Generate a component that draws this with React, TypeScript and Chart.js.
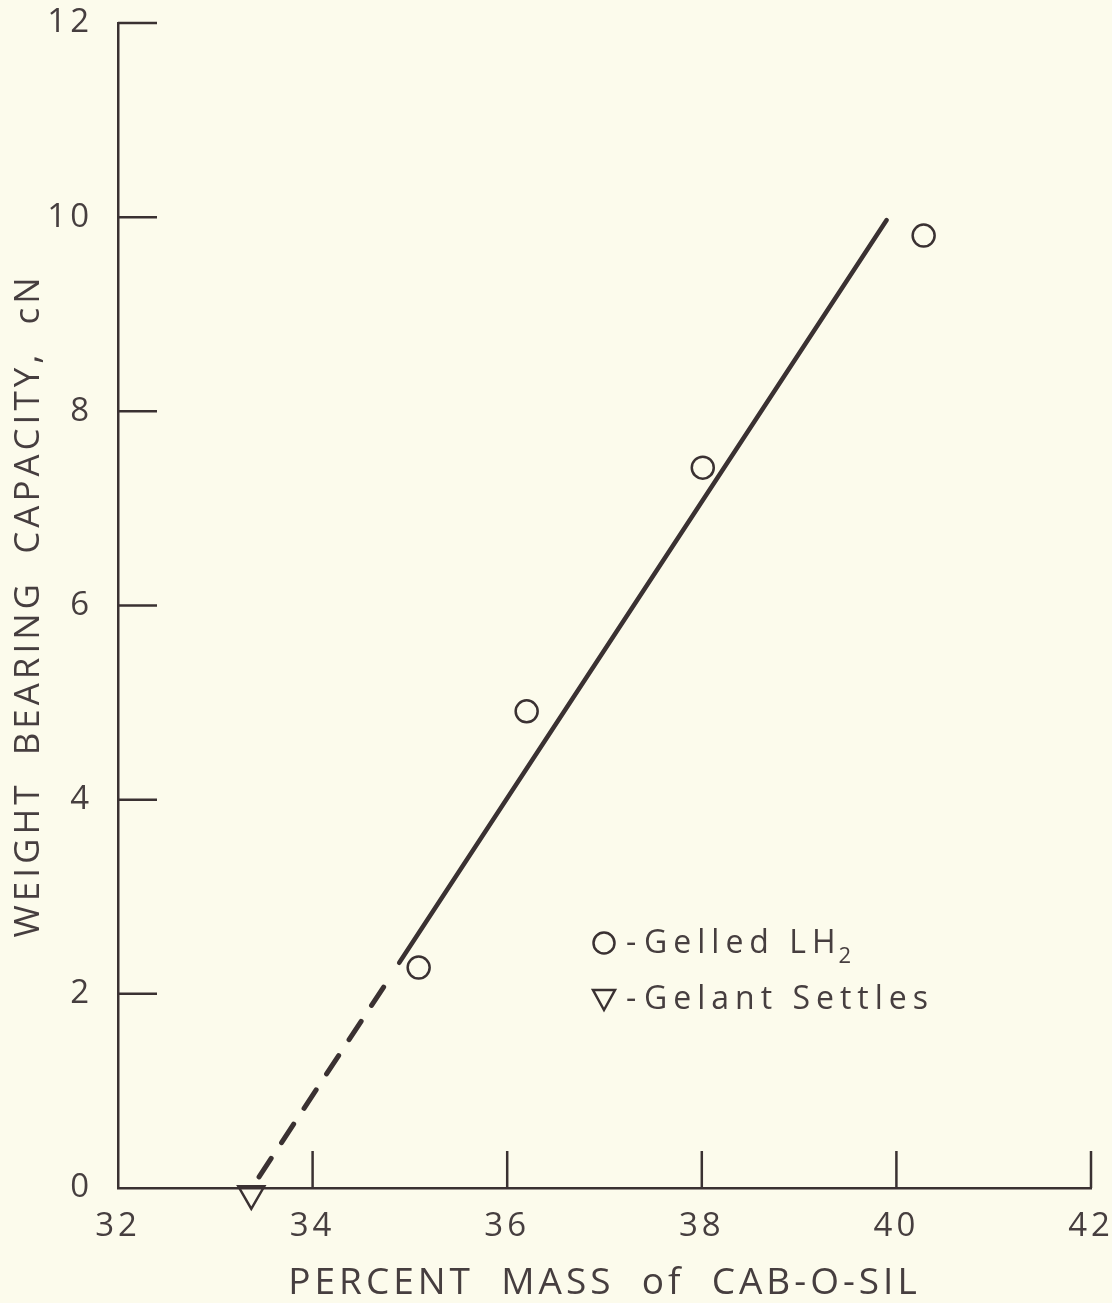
import React, { useEffect, useRef } from 'react';
import { Chart, registerables } from 'chart.js';

Chart.register(...registerables);

// ---- data ----
const xTicks = [32, 34, 36, 38, 40, 42];
const yTicks = [0, 2, 4, 6, 8, 10, 12];
const gelledX = [35.09, 36.2, 38.01, 40.28];
const gelledY = [2.27, 4.91, 7.42, 9.81];
const settlesX = [33.37];
const settlesY = [-0.06];
const fitX = [34.89, 39.9];
const fitY = [2.32, 9.97];
const extrapX = [34.73, 33.44];
const extrapY = [2.07, 0.1];
const seriesLabels = ['Gelled LH₂', 'Gelant Settles'];
const xTitle = 'PERCENT  MASS  of  CAB-O-SIL';
const yTitle = 'WEIGHT  BEARING  CAPACITY,  cN';

// ---- styles ----
const W = 1112;
const H = 1303;
const BG = '#fcfbec';
const INK = '#3a3132';
const TEXT = '#463e3f';
const FONT = '"Open Sans", "DejaVu Sans", sans-serif';

const pts = (xs: number[], ys: number[]) => xs.map((x, i) => ({ x, y: ys[i] }));

const spacingPlugin = {
  id: 'spacing',
  beforeLayout(chart: any) {
    chart.ctx.letterSpacing = '4px';
  },
  beforeDraw(chart: any) {
    const ctx = chart.ctx;
    ctx.save();
    ctx.fillStyle = BG;
    ctx.fillRect(0, 0, chart.width, chart.height);
    ctx.restore();
    ctx.letterSpacing = '4px';
  },
};

const innerTicksPlugin = {
  id: 'innerTicks',
  afterDraw(chart: any) {
    const { ctx, chartArea, scales } = chart;
    ctx.save();
    ctx.strokeStyle = INK;
    ctx.lineWidth = 2.5;
    scales.y.ticks.forEach((t: any) => {
      if (t.value === scales.y.min) return;
      const py = scales.y.getPixelForValue(t.value);
      ctx.beginPath();
      ctx.moveTo(chartArea.left, py);
      ctx.lineTo(chartArea.left + 39, py);
      ctx.stroke();
    });
    scales.x.ticks.forEach((t: any) => {
      if (t.value === scales.x.min) return;
      const px = scales.x.getPixelForValue(t.value);
      ctx.beginPath();
      ctx.moveTo(px, chartArea.bottom);
      ctx.lineTo(px, chartArea.bottom - 37);
      ctx.stroke();
    });
    ctx.restore();
  },
};

const legendPlugin = {
  id: 'customLegend',
  afterDraw(chart: any) {
    const ctx = chart.ctx;
    const mx = 604;
    const rows = [943, 999];
    ctx.save();
    ctx.strokeStyle = INK;
    ctx.lineWidth = 2.5;
    // circle marker
    ctx.beginPath();
    ctx.arc(mx, rows[0], 10.5, 0, Math.PI * 2);
    ctx.stroke();
    // down-pointing triangle marker
    ctx.beginPath();
    ctx.moveTo(mx - 11, rows[1] - 9);
    ctx.lineTo(mx + 11, rows[1] - 9);
    ctx.lineTo(mx, rows[1] + 11);
    ctx.closePath();
    ctx.stroke();

    ctx.fillStyle = TEXT;
    ctx.textBaseline = 'middle';
    ctx.textAlign = 'left';
    ctx.letterSpacing = '6px';
    seriesLabels.forEach((label, i) => {
      const sub = label.endsWith('₂');
      const main = sub ? label.slice(0, -1) : label;
      ctx.font = `32px ${FONT}`;
      ctx.fillText('-', 626, rows[i] + 1);
      const tx = 644;
      ctx.fillText(main, tx, rows[i] + 1);
      if (sub) {
        const w = ctx.measureText(main).width;
        ctx.font = `22px ${FONT}`;
        ctx.fillText('2', tx + w - 3, rows[i] + 14);
      }
    });
    ctx.restore();
  },
};

export default function App() {
  const ref = useRef<HTMLCanvasElement | null>(null);

  useEffect(() => {
    document.body.style.margin = '0';
    document.body.style.background = BG;
    const canvas = ref.current;
    if (!canvas) return;
    const chart = new Chart(canvas, {
      type: 'scatter',
      data: {
        datasets: [
          {
            label: 'fit',
            data: pts(fitX, fitY),
            showLine: true,
            borderColor: INK,
            borderWidth: 4.5,
            borderCapStyle: 'round',
            pointRadius: 0,
            clip: false,
          },
          {
            label: 'extrapolation',
            data: pts(extrapX, extrapY),
            showLine: true,
            borderColor: INK,
            borderWidth: 5,
            borderDash: [22, 19],
            borderCapStyle: 'round',
            pointRadius: 0,
            clip: false,
          },
          {
            label: seriesLabels[0],
            data: pts(gelledX, gelledY),
            showLine: false,
            pointStyle: 'circle',
            pointRadius: 11,
            pointBorderWidth: 2.5,
            pointBorderColor: INK,
            pointBackgroundColor: 'rgba(0,0,0,0)',
            clip: false,
          },
          {
            label: seriesLabels[1],
            data: pts(settlesX, settlesY),
            showLine: false,
            pointStyle: 'triangle',
            rotation: 180,
            pointRadius: 15,
            pointBorderWidth: 2.5,
            pointBorderColor: INK,
            pointBackgroundColor: 'rgba(0,0,0,0)',
            clip: false,
          },
        ],
      },
      options: {
        responsive: false,
        animation: false,
        devicePixelRatio: 1,
        layout: { padding: { top: 23, right: 21, left: 0, bottom: 0 } },
        plugins: { legend: { display: false }, tooltip: { enabled: false } },
        scales: {
          x: {
            type: 'linear',
            min: xTicks[0],
            max: xTicks[xTicks.length - 1],
            afterBuildTicks: (s: any) => {
              s.ticks = xTicks.map((v) => ({ value: v }));
            },
            afterFit: (s: any) => {
              s.height = 115;
              s.paddingLeft = 0;
              s.paddingRight = 0;
            },
            grid: { display: false, drawTicks: false },
            border: { display: true, color: INK, width: 2.5 },
            ticks: {
              color: TEXT,
              padding: 19,
              font: { family: FONT, size: 33 },
              maxRotation: 0,
              autoSkip: false,
            },
            title: {
              display: true,
              text: xTitle,
              color: TEXT,
              font: { family: FONT, size: 37, lineHeight: 1 },
              padding: { top: 0, bottom: 1 },
            },
          },
          y: {
            type: 'linear',
            min: yTicks[0],
            max: yTicks[yTicks.length - 1],
            afterBuildTicks: (s: any) => {
              s.ticks = yTicks.map((v) => ({ value: v }));
            },
            afterFit: (s: any) => {
              s.width = 118;
              s.paddingTop = 0;
              s.paddingBottom = 0;
            },
            grid: { display: false, drawTicks: false },
            border: { display: true, color: INK, width: 2.5 },
            ticks: {
              color: TEXT,
              padding: 25,
              font: { family: FONT, size: 33 },
              autoSkip: false,
            },
            title: {
              display: true,
              text: yTitle,
              color: TEXT,
              font: { family: FONT, size: 35, lineHeight: 1 },
              padding: { top: 12, bottom: 0 },
            },
          },
        },
      },
      plugins: [spacingPlugin, innerTicksPlugin, legendPlugin],
    } as any);
    return () => chart.destroy();
  }, []);

  return (
    <div style={{ width: W, height: H, background: BG }}>
      <canvas ref={ref} width={W} height={H} style={{ display: 'block', width: W, height: H }} />
    </div>
  );
}
